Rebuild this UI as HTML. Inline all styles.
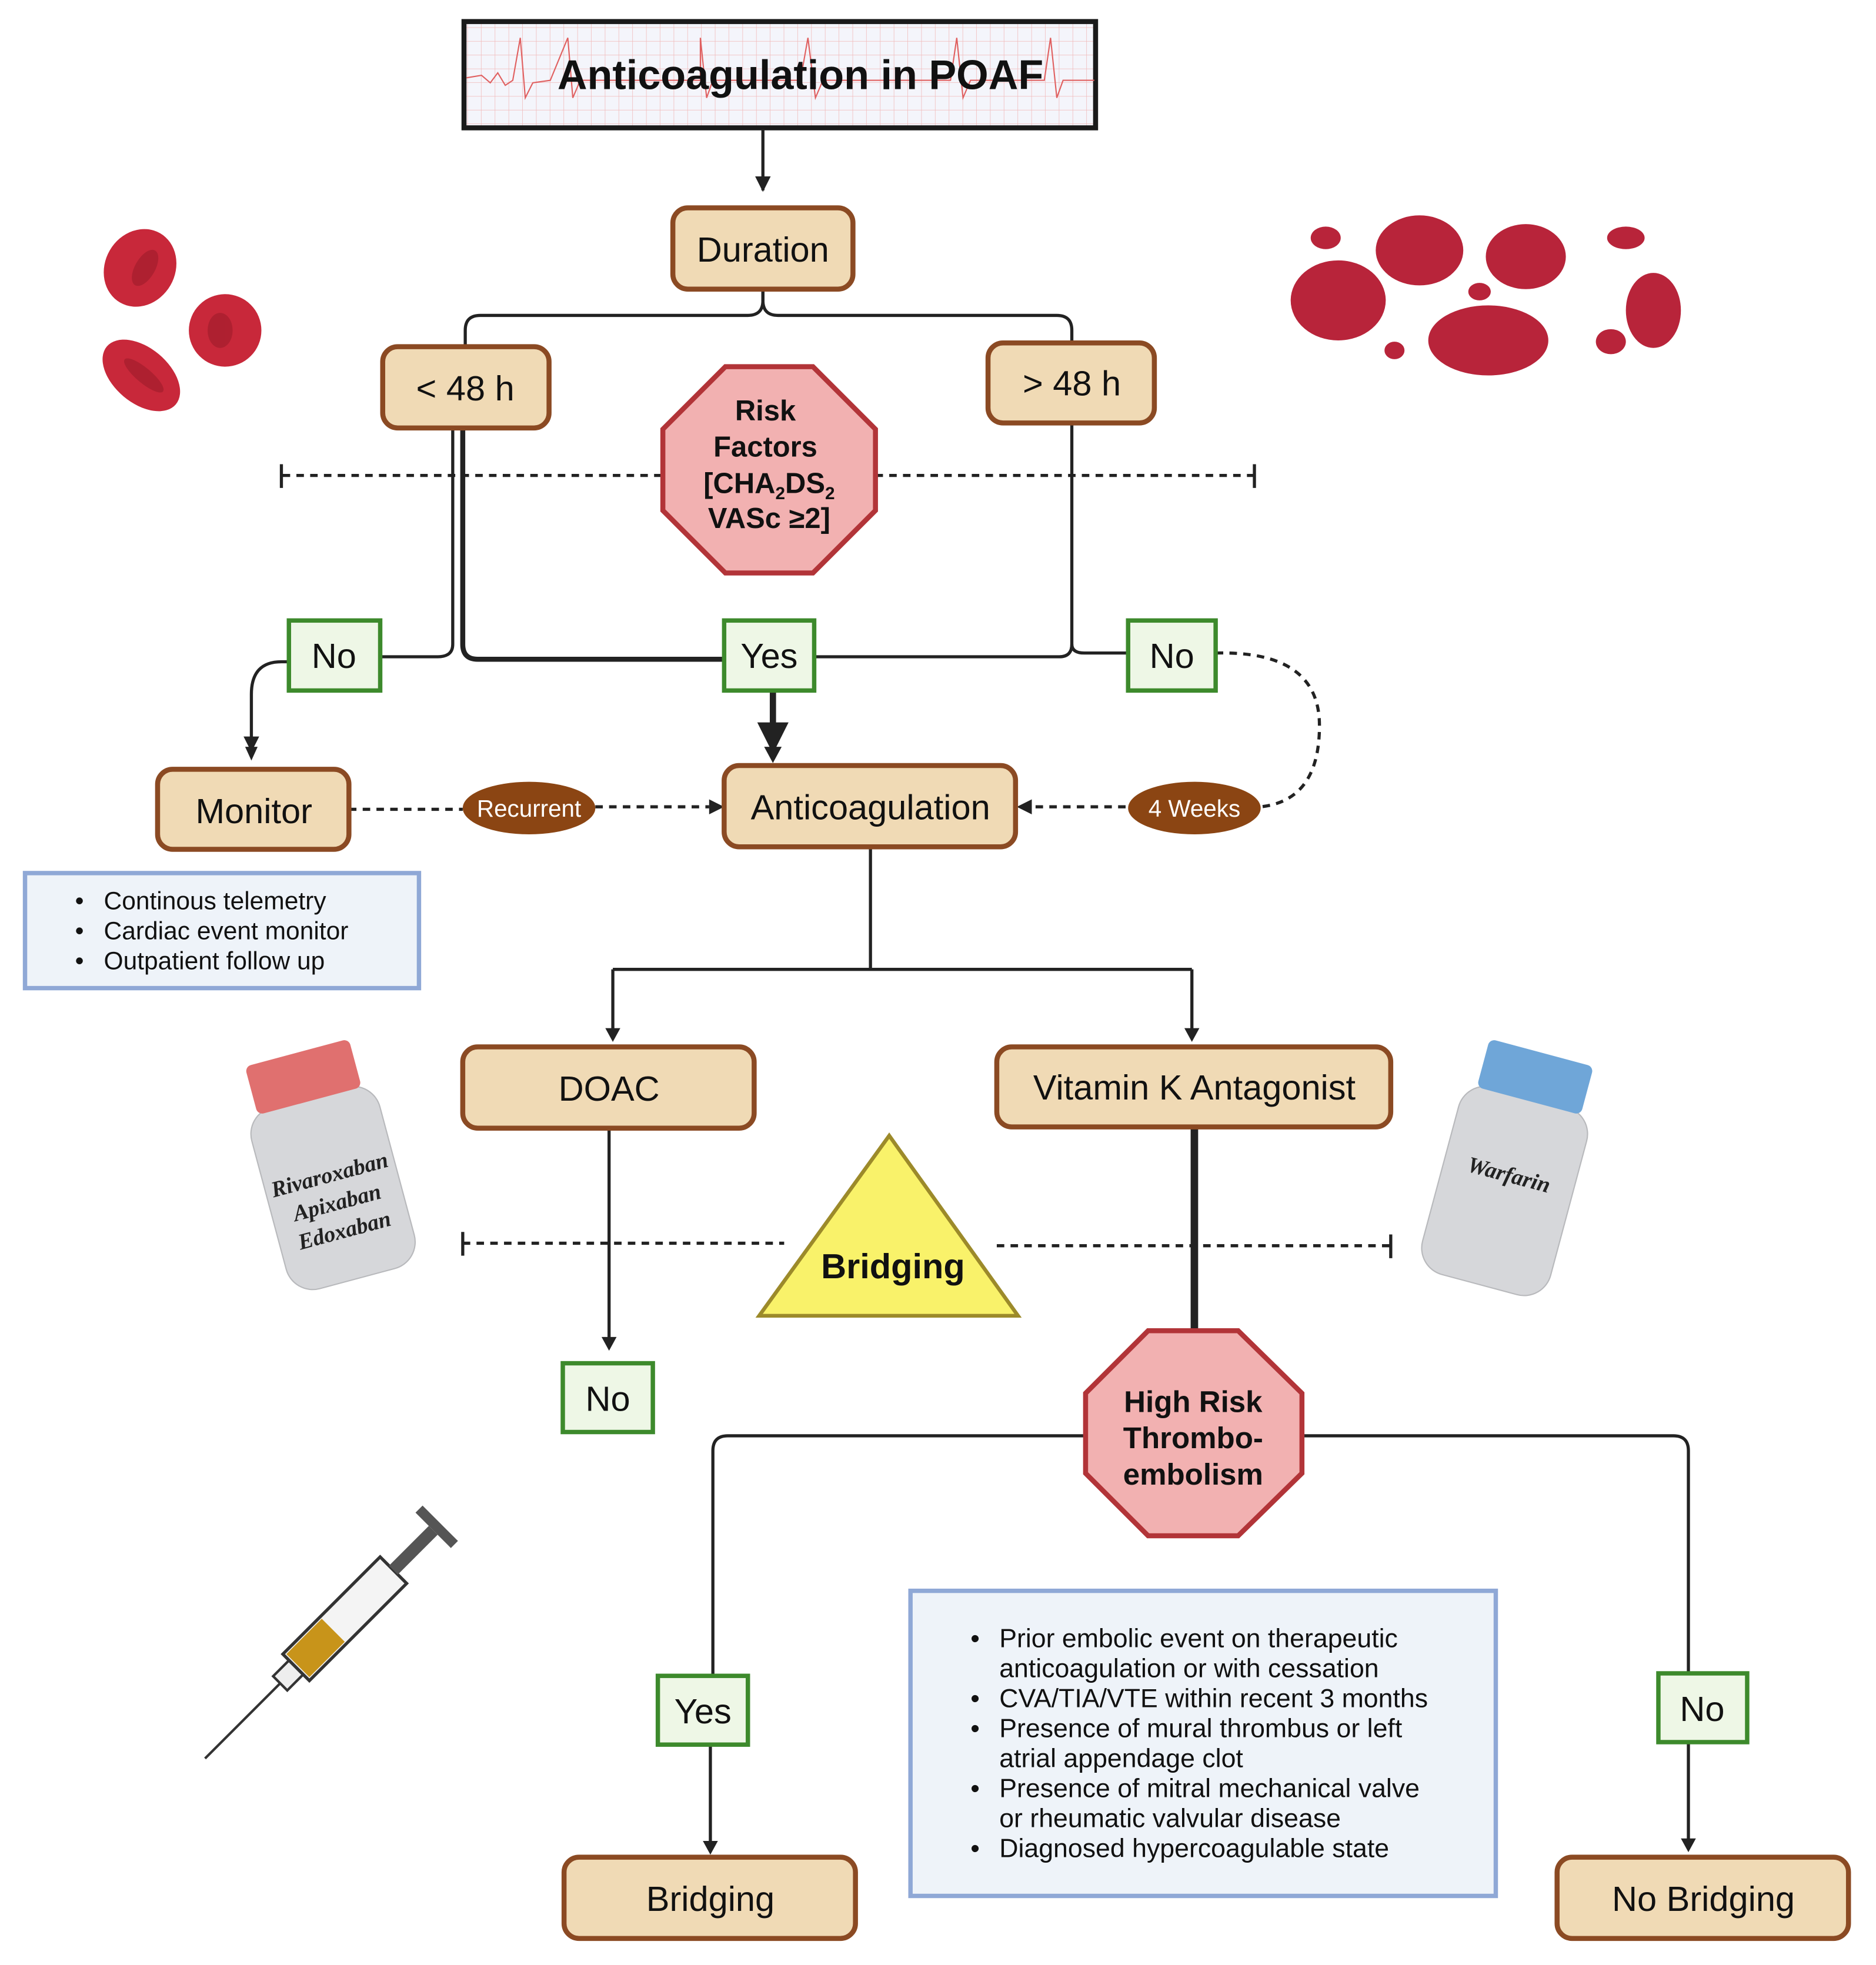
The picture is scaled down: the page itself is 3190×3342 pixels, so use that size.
<!DOCTYPE html>
<html><head><meta charset="utf-8"><style>
html,body{margin:0;padding:0;background:#fff}
svg{display:block}
text{font-family:"Liberation Sans",sans-serif}
</style></head><body>
<svg width="3190" height="3342" viewBox="0 0 1500 1571" xmlns="http://www.w3.org/2000/svg">
<defs>
<marker id="ar" viewBox="0 0 10 10" refX="9" refY="5" markerWidth="5" markerHeight="5" orient="auto"><path d="M0,0L10,5L0,10z" fill="#222"/></marker>
<pattern id="grid" width="11" height="11" patternUnits="userSpaceOnUse"><rect width="11" height="11" fill="#f4f5fb"/><path d="M11,0V11M0,11H11" stroke="#f0b8b8" stroke-width="0.7"/></pattern>
</defs>
<rect width="1500" height="1571" fill="#fff"/>

<!-- Title -->
<rect x="371" y="17" width="505" height="85" fill="url(#grid)" stroke="#1a1a1a" stroke-width="4"/>
<polyline points="373,62 385,60 392,66 398,58 404,68 410,64 416,30 420,78 426,66 440,64 454,30 458,78 464,64 560,64 560,30 565,78 570,64 640,64 646,30 652,78 658,64 760,64 765,30 770,78 776,64 835,64 840,30 845,78 850,64 875,64" fill="none" stroke="#e06060" stroke-width="1"/>
<text x="640" y="71" font-size="33" font-weight="bold" text-anchor="middle" fill="#111">Anticoagulation in POAF</text>
<line x1="610" y1="103" x2="610" y2="152" stroke="#222" stroke-width="2.5" marker-end="url(#ar)"/>

<!-- connectors top -->
<g fill="none" stroke="#222" stroke-width="2.5">
<path d="M610,231 V240 Q610,252 598,252 H384 Q372,252 372,264 V277"/>
<path d="M610,231 V240 Q610,252 622,252 H845 Q857,252 857,264 V274"/>
<path d="M857,338 V515 Q857,525 847,525 H652"/>
<path d="M857,515 Q857,522 867,522 H902"/>
<path d="M370,342 V515 Q370,527 382,527 H580" stroke-width="4"/>
<path d="M362,342 V515 Q362,525 350,525 H304" stroke-width="2.5"/>
<path d="M231,529 H225 Q201,529 201,555 V600" marker-end="url(#ar)"/>
<path d="M618,552 V600" stroke-width="5" marker-end="url(#ar)"/>
<path d="M696,677 V775 M490,775 H953 M490,775 V825 M953,775 V825"/>
<path d="M487,902 V1072"/>
<path d="M955,901 V1066" stroke-width="6"/>
<path d="M868,1148 H582 Q570,1148 570,1160 V1340"/>
<path d="M1041,1148 H1338 Q1350,1148 1350,1160 V1338"/>
<path d="M568,1395 V1476 M1350,1393 V1474"/>
</g>
<g fill="#222">
<path d="M484,822 L496,822 L490,833z"/><path d="M947,822 L959,822 L953,833z"/>
<path d="M481,1069 L493,1069 L487,1080z"/>
<path d="M562,1472 L574,1472 L568,1483z"/><path d="M1344,1470 L1356,1470 L1350,1481z"/>
<path d="M196,597 L206,597 L201,608z"/><path d="M611,597 L625,597 L618,610z"/>
</g>

<!-- dashed -->
<g fill="none" stroke="#222" stroke-width="2.5" stroke-dasharray="6,5">
<path d="M226,380 H530 M700,380 H1003"/>
<path d="M370,994 H627 M797,996 H1112"/>
<path d="M279,647 H370 M476,645 H567"/>
<path d="M900,645 H825"/>
<path d="M972,522 Q1055,520 1055,580 Q1055,640 1008,645"/>
</g>
<g stroke="#222" stroke-width="2.5"><path d="M225,371V390 M1003,371V390 M370,985V1004 M1112,987V1006"/></g>
<path d="M567,639 L579,645 L567,651z M825,639 L813,645 L825,651z" fill="#222"/>

<!-- boxes -->
<g fill="#f0dab5" stroke="#8b4a23" stroke-width="4">
<rect x="538" y="166" width="144" height="65" rx="12"/>
<rect x="306" y="277" width="133" height="65" rx="12"/>
<rect x="790" y="274" width="133" height="64" rx="12"/>
<rect x="126" y="615" width="153" height="64" rx="12"/>
<rect x="579" y="612" width="233" height="65" rx="12"/>
<rect x="370" y="837" width="233" height="65" rx="12"/>
<rect x="797" y="837" width="315" height="64" rx="12"/>
<rect x="451" y="1485" width="233" height="65" rx="12"/>
<rect x="1245" y="1485" width="233" height="65" rx="12"/>
</g>
<g font-size="28" text-anchor="middle" fill="#111">
<text x="610" y="209">Duration</text>
<text x="372" y="320">&lt; 48 h</text>
<text x="857" y="316">&gt; 48 h</text>
<text x="203" y="658">Monitor</text>
<text x="696" y="655">Anticoagulation</text>
<text x="487" y="880">DOAC</text>
<text x="955" y="879">Vitamin K Antagonist</text>
<text x="568" y="1528">Bridging</text>
<text x="1362" y="1528">No Bridging</text>
</g>

<!-- green boxes -->
<g fill="#eef7e6" stroke="#3d8a2c" stroke-width="3.5">
<rect x="231" y="496" width="73" height="56"/>
<rect x="579" y="496" width="72" height="56"/>
<rect x="902" y="496" width="70" height="56"/>
<rect x="450" y="1090" width="72" height="55"/>
<rect x="526" y="1340" width="72" height="55"/>
<rect x="1326" y="1338" width="71" height="55"/>
</g>
<g font-size="28" text-anchor="middle" fill="#111">
<text x="267" y="534">No</text><text x="615" y="534">Yes</text><text x="937" y="534">No</text>
<text x="486" y="1128">No</text><text x="562" y="1378">Yes</text><text x="1361" y="1376">No</text>
</g>

<!-- ovals -->
<ellipse cx="423" cy="646" rx="53" ry="21" fill="#8b4513"/>
<ellipse cx="955" cy="646" rx="53" ry="21" fill="#8b4513"/>
<text x="423" y="653" font-size="19" fill="#fff" text-anchor="middle">Recurrent</text>
<text x="955" y="653" font-size="19" fill="#fff" text-anchor="middle">4 Weeks</text>

<!-- octagons -->
<polygon points="580,293 650,293 700,343 700,408 650,458 580,458 530,408 530,343" fill="#f2b1b1" stroke="#b23438" stroke-width="4"/>
<g font-size="23" font-weight="bold" text-anchor="middle" fill="#111">
<text x="612" y="336">Risk</text><text x="612" y="365">Factors</text>
<text x="615" y="394">[CHA<tspan font-size="14" dy="5">2</tspan><tspan dy="-5">DS</tspan><tspan font-size="14" dy="5">2</tspan></text>
<text x="615" y="422">VASc ≥2]</text>
</g>
<polygon points="918,1064 990,1064 1041,1114 1041,1178 990,1228 918,1228 868,1178 868,1114" fill="#f2b1b1" stroke="#b23438" stroke-width="4"/>
<g font-size="24" font-weight="bold" text-anchor="middle" fill="#111">
<text x="954" y="1129">High Risk</text><text x="954" y="1158">Thrombo-</text><text x="954" y="1187">embolism</text>
</g>

<!-- triangle -->
<polygon points="711,908 814,1052 607,1052" fill="#f9f26a" stroke="#9c8a2a" stroke-width="3"/>
<text x="714" y="1022" font-size="28" font-weight="bold" text-anchor="middle" fill="#111">Bridging</text>

<!-- blue boxes -->
<rect x="20" y="698" width="315" height="92" fill="#eef3f9" stroke="#8fa8d6" stroke-width="3.5"/>
<g font-size="20" fill="#111">
<text x="60" y="727">•</text><text x="83" y="727">Continous telemetry</text>
<text x="60" y="751">•</text><text x="83" y="751">Cardiac event monitor</text>
<text x="60" y="775">•</text><text x="83" y="775">Outpatient follow up</text>
</g>
<rect x="728" y="1272" width="468" height="244" fill="#eef3f9" stroke="#8fa8d6" stroke-width="3.5"/>
<g font-size="21" fill="#111">
<text x="776" y="1317">•</text><text x="799" y="1317">Prior embolic event on therapeutic</text>
<text x="799" y="1341">anticoagulation or with cessation</text>
<text x="776" y="1365">•</text><text x="799" y="1365">CVA/TIA/VTE within recent 3 months</text>
<text x="776" y="1389">•</text><text x="799" y="1389">Presence of mural thrombus or left</text>
<text x="799" y="1413">atrial appendage clot</text>
<text x="776" y="1437">•</text><text x="799" y="1437">Presence of mitral mechanical valve</text>
<text x="799" y="1461">or rheumatic valvular disease</text>
<text x="776" y="1485">•</text><text x="799" y="1485">Diagnosed hypercoagulable state</text>
</g>

<!-- red blood cells -->
<g fill="#c8283a">
<ellipse cx="112" cy="214" rx="28" ry="32" transform="rotate(30 112 214)"/>
<circle cx="180" cy="264" r="29"/>
<ellipse cx="113" cy="300" rx="22" ry="36" transform="rotate(-50 113 300)"/>
</g>
<g fill="#9e1b2a" opacity="0.6">
<ellipse cx="116" cy="214" rx="8" ry="16" transform="rotate(30 116 214)"/>
<ellipse cx="176" cy="264" rx="10" ry="14"/>
<ellipse cx="115" cy="300" rx="6" ry="20" transform="rotate(-50 115 300)"/>
</g>
<!-- clots -->
<g fill="#b8243a">
<ellipse cx="1070" cy="240" rx="38" ry="32"/>
<ellipse cx="1135" cy="200" rx="35" ry="28"/>
<ellipse cx="1220" cy="205" rx="32" ry="26"/>
<ellipse cx="1190" cy="272" rx="48" ry="28"/>
<ellipse cx="1322" cy="248" rx="22" ry="30"/>
<ellipse cx="1060" cy="190" rx="12" ry="9"/>
<ellipse cx="1300" cy="190" rx="15" ry="9"/>
<ellipse cx="1288" cy="273" rx="12" ry="10"/>
<ellipse cx="1115" cy="280" rx="8" ry="7"/>
<ellipse cx="1183" cy="233" rx="9" ry="7"/>
</g>

<!-- pill bottles -->
<g transform="rotate(-15 265 945)">
<rect x="212" y="875" width="106" height="150" rx="22" fill="#d6d7da" stroke="#b8b9bc"/>
<rect x="222" y="838" width="86" height="40" rx="5" fill="#e0706f"/>
<text x="265" y="945" style="font-family:'Liberation Serif',serif;font-style:italic;font-weight:bold;font-size:18px" text-anchor="middle" fill="#222">Rivaroxaban</text>
<text x="265" y="968" style="font-family:'Liberation Serif',serif;font-style:italic;font-weight:bold;font-size:18px" text-anchor="middle" fill="#222">Apixaban</text>
<text x="265" y="991" style="font-family:'Liberation Serif',serif;font-style:italic;font-weight:bold;font-size:18px" text-anchor="middle" fill="#222">Edoxaban</text>
</g>
<g transform="rotate(15 1205 945)">
<rect x="1152" y="875" width="106" height="155" rx="22" fill="#d6d7da" stroke="#b8b9bc"/>
<rect x="1162" y="838" width="86" height="40" rx="5" fill="#6fa6d8"/>
<text x="1205" y="945" style="font-family:'Liberation Serif',serif;font-style:italic;font-weight:bold;font-size:18px" text-anchor="middle" fill="#222">Warfarin</text>
</g>

<!-- syringe -->
<g transform="rotate(-45 270 1300)">
<line x1="120" y1="1300" x2="205" y2="1300" stroke="#333" stroke-width="2"/>
<rect x="205" y="1292" width="18" height="16" fill="#eee" stroke="#333" stroke-width="2"/>
<rect x="223" y="1285" width="110" height="30" fill="#f4f4f4" stroke="#333" stroke-width="2.5"/>
<rect x="225" y="1287" width="40" height="26" fill="#c8941a"/>
<rect x="333" y="1295" width="45" height="10" fill="#555"/>
<rect x="378" y="1280" width="8" height="40" fill="#555"/>
</g>
</svg>
</body></html>
